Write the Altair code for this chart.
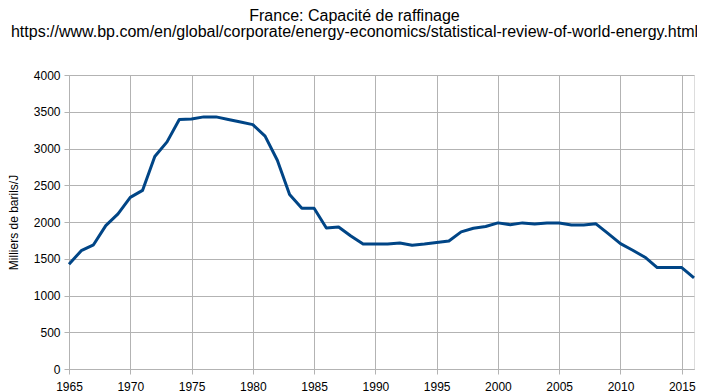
import altair as alt
import pandas as pd

years = list(range(1965, 2017))
capacity = [
    1425, 1610, 1690, 1950, 2110, 2335, 2430, 2890, 3090, 3395,
    3400, 3430, 3430, 3395, 3360, 3325, 3168, 2840, 2373, 2188,
    2188, 1918, 1932, 1810, 1700, 1700, 1700, 1714, 1685, 1700,
    1720, 1742, 1866, 1915, 1938, 1988, 1964, 1988, 1973, 1988,
    1985, 1960, 1960, 1975, 1842, 1706, 1616, 1521, 1380, 1380,
    1380, 1240,
]
x_ticks = list(range(1965, 2016, 5))
y_ticks = list(range(0, 4001, 500))

df = pd.DataFrame({"year": years, "value": capacity})

grid = "#b3b3b3"

chart = (
    alt.Chart(df)
    .mark_line(color="#004586", strokeWidth=3, strokeJoin="round")
    .encode(
        x=alt.X(
            "year:Q",
            scale=alt.Scale(domain=[1965, 2016], nice=False, zero=False),
            axis=alt.Axis(
                values=x_ticks, format="d", title=None, grid=True,
                gridColor=grid, domainColor=grid, tickColor=grid,
                tickSize=5, labelColor="black", labelFontSize=12,
                labelFont="Liberation Sans", labelPadding=7,
                labelOverlap=False, labelFlush=False,
            ),
        ),
        y=alt.Y(
            "value:Q",
            scale=alt.Scale(domain=[0, 4000], nice=False),
            axis=alt.Axis(
                values=y_ticks, format="d", title="Milliers de barils/J",
                grid=True, gridColor=grid, domainColor=grid, tickColor=grid,
                tickSize=5, labelColor="black", labelFontSize=12,
                labelFont="Liberation Sans", labelPadding=4,
                titleFont="Liberation Sans", titleFontSize=12,
                titleFontWeight="normal", titleColor="black",
                titlePadding=13,
            ),
        ),
    )
    .properties(
        width=625,
        height=294,
        autosize=alt.AutoSizeParams(type="none"),
        padding={"left": 61, "top": 67, "right": 3, "bottom": 30},
        title=alt.TitleParams(
            text=[
                "France: Capacité de raffinage",
                "https://www.bp.com/en/global/corporate/energy-economics/statistical-review-of-world-energy.html",
            ],
            font="Liberation Sans",
            fontSize=16,
            fontWeight="normal",
            color="black",
            anchor="middle",
            dx=-27,
            offset=29,
            lineHeight=16,
        ),
    )
    .configure_view(stroke=grid)
    .configure(background="white")
)

chart.save("out.html", embed_options={"renderer": "svg", "actions": False})
